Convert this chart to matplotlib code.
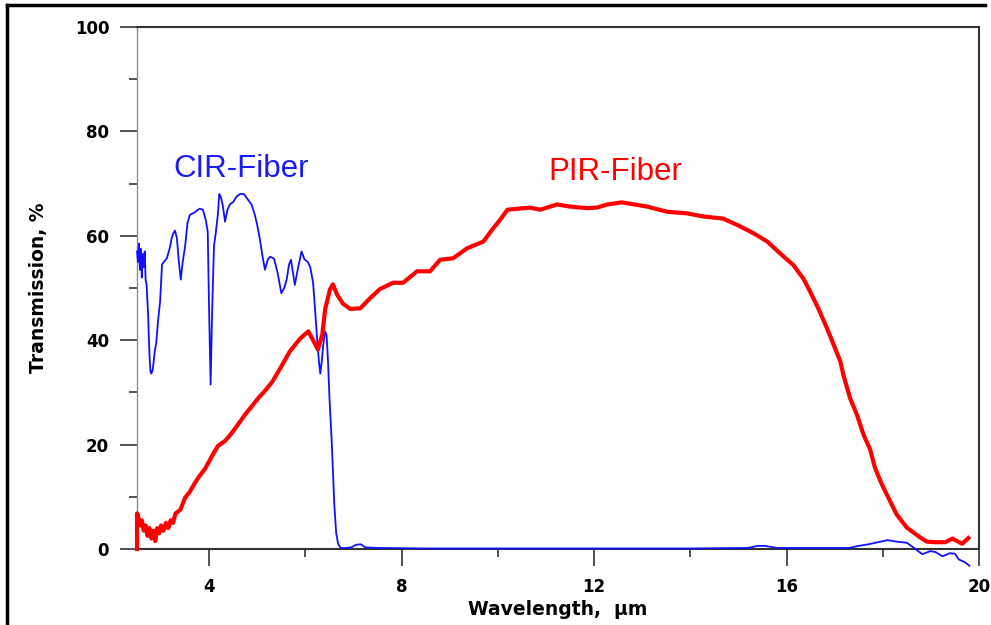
import matplotlib
matplotlib.use("Agg")
import matplotlib.pyplot as plt
from matplotlib.lines import Line2D

# ---- data ----
cir_x = [2.50, 2.52, 2.54, 2.56, 2.58, 2.60, 2.62, 2.64, 2.66, 2.68, 2.70, 2.73,
         2.76, 2.78, 2.80, 2.83, 2.87, 2.90, 2.94, 2.98, 3.02, 3.06, 3.12, 3.18,
         3.22, 3.25, 3.29, 3.33, 3.37, 3.41, 3.45, 3.50, 3.55, 3.60, 3.70, 3.80,
         3.87, 3.93, 3.97, 4.00, 4.03, 4.06, 4.10, 4.14, 4.18, 4.21, 4.24, 4.28,
         4.33, 4.38, 4.43, 4.50, 4.57, 4.64, 4.72, 4.80, 4.88, 4.95, 5.00, 5.06,
         5.11, 5.16, 5.22, 5.27, 5.35, 5.42, 5.50, 5.56, 5.61, 5.66, 5.70, 5.74,
         5.78, 5.85, 5.92, 5.98, 6.05, 6.10, 6.16, 6.20, 6.24, 6.28, 6.31, 6.34,
         6.37, 6.41, 6.44, 6.47, 6.50, 6.55, 6.60, 6.64, 6.68, 6.73, 6.85, 6.95,
         7.05, 7.15, 7.25, 7.50, 8.50, 10.0, 12.0, 14.0, 15.2, 15.4, 15.55, 15.8,
         17.3, 17.5, 17.7, 17.95, 18.1, 18.3, 18.5, 18.65, 18.82, 18.99, 19.1,
         19.24, 19.4, 19.5, 19.58, 19.7, 19.8]
cir_y = [57.0, 55.0, 58.5, 53.5, 57.5, 52.0, 56.5, 54.0, 57.0, 51.5, 50.6, 45.0,
         37.0, 34.0, 33.6, 34.5, 38.0, 39.5, 44.0, 47.4, 54.5, 55.0, 55.7, 57.6,
         59.5, 60.4, 61.0, 59.5, 55.0, 51.6, 55.0, 58.0, 62.5, 64.0, 64.5, 65.2,
         65.0, 63.0, 60.8, 45.0, 31.5, 45.0, 58.0, 60.8, 64.0, 68.0, 67.5, 66.0,
         62.7, 65.0, 66.0, 66.5, 67.5, 68.0, 68.0, 67.0, 66.0, 64.0, 62.0, 59.0,
         56.0, 53.5, 55.5, 56.0, 55.6, 53.0, 49.0, 50.0, 51.6, 54.5, 55.4, 53.0,
         50.6, 54.0, 57.0, 55.5, 55.0, 54.0, 51.0, 46.0, 40.7, 36.0, 33.6, 36.0,
         39.0, 41.7, 41.0, 36.0, 29.0, 20.0, 8.6, 3.0, 1.0, 0.2, 0.2, 0.3,
         0.8, 0.9, 0.3, 0.2, 0.1, 0.1, 0.1, 0.1, 0.2, 0.6, 0.6, 0.2,
         0.2, 0.6, 0.9, 1.4, 1.7, 1.4, 1.2, 0.2, -1.0, -0.4, -0.6,
         -1.4, -0.8, -0.9, -2.0, -2.5, -3.2]

pir_x = [2.50, 2.50, 2.52, 2.56, 2.60, 2.64, 2.68, 2.72, 2.76, 2.80, 2.84, 2.88,
         2.92, 2.96, 3.00, 3.05, 3.10, 3.15, 3.20, 3.25, 3.30, 3.40, 3.50, 3.60,
         3.70, 3.80, 3.91, 4.00, 4.10, 4.18, 4.25, 4.33, 4.45, 4.54, 4.65, 4.75,
         4.90, 5.02, 5.15, 5.31, 5.47, 5.68, 5.89, 6.06, 6.16, 6.26, 6.35, 6.41,
         6.51, 6.57, 6.66, 6.78, 6.93, 7.14, 7.34, 7.55, 7.82, 8.03, 8.32, 8.59,
         8.80, 9.07, 9.36, 9.70, 9.90, 10.05, 10.2, 10.67, 10.88, 11.23, 11.5,
         11.85, 12.06, 12.27, 12.58, 13.1, 13.52, 13.93, 14.27, 14.68, 14.97,
         15.31, 15.6, 15.87, 16.14, 16.35, 16.49, 16.66, 16.84, 16.98, 17.12,
         17.18, 17.32, 17.46, 17.6, 17.74, 17.84, 17.98, 18.15, 18.29, 18.5,
         18.78, 18.92, 19.1, 19.3, 19.45, 19.55, 19.65, 19.78]
pir_y = [0.0, 6.8, 6.5, 4.5, 5.5, 3.5, 4.5, 2.5, 4.0, 2.0, 3.5, 1.5,
         4.0, 3.0, 4.5, 3.5, 5.0, 4.0, 5.5, 5.0, 6.8, 7.5, 9.8, 11.0,
         12.6, 14.0, 15.3, 16.8, 18.5, 19.7, 20.2, 20.7, 22.0, 23.1, 24.5, 25.8,
         27.5, 28.9, 30.2, 32.0, 34.5, 37.9, 40.3, 41.7, 40.0, 38.2, 41.0, 45.9,
         49.7, 50.7, 48.7, 47.0, 46.0, 46.1, 48.0, 49.8, 51.0, 51.0, 53.2, 53.2,
         55.4, 55.7, 57.6, 58.9, 61.4, 63.1, 65.0, 65.4, 65.0, 66.0, 65.6,
         65.3, 65.4, 66.0, 66.4, 65.6, 64.6, 64.3, 63.7, 63.3, 62.1,
         60.5, 58.9, 56.6, 54.4, 51.8, 49.3, 46.1, 42.3, 39.1, 35.9,
         33.4, 28.9, 25.8, 21.9, 19.0, 15.5, 12.4, 9.2, 6.6, 4.1,
         2.2, 1.4, 1.3, 1.3, 2.0, 1.5, 1.0, 2.1]

x_major = [4, 8, 12, 16, 20]
x_minor = [6, 10, 14, 18]
y_major = [0, 20, 40, 60, 80, 100]
y_minor = [10, 30, 50, 70, 90]

# ---- figure ----
W, H = 991, 625
fig = plt.figure(figsize=(W / 100, H / 100), dpi=100)
ax = fig.add_axes([137 / W, 1 - 549 / H, (979 - 137) / W, (549 - 27) / H])

ax.plot(cir_x, cir_y, color="#1010ff", lw=1.3, clip_on=False, zorder=3)
ax.plot(pir_x, pir_y, color="#ff0000", lw=3.0, clip_on=False, zorder=4,
        solid_joinstyle="round")

ax.set_xlim(2.5, 20)
ax.set_ylim(0, 100)
ax.set_xticks(x_major)
ax.set_xticks(x_minor, minor=True)
ax.set_yticks(y_major)
ax.set_yticks(y_minor, minor=True)

tick_font = dict(family="DejaVu Sans", weight="bold", size=12)
ax.set_xticklabels([str(v) for v in x_major], fontdict=tick_font)
ax.set_yticklabels([str(v) for v in y_major], fontdict=tick_font)
ax.tick_params(which="major", direction="out", length=12, width=1.2,
               color="#333333")
ax.tick_params(which="minor", direction="out", length=6, width=1.2,
               color="#333333")
ax.tick_params(axis="x", which="major", pad=9)
ax.tick_params(axis="y", which="major", pad=8)

ax.spines["left"].set_color("#8c8c8c")
ax.spines["left"].set_linewidth(1.0)
for s in ("top", "right", "bottom"):
    ax.spines[s].set_color("#333333")
    ax.spines[s].set_linewidth(1.5)

ax.set_xlabel("Wavelength,  µm", family="DejaVu Sans", weight="bold",
              size=13.5, labelpad=3)
ax.set_ylabel("Transmission, %", family="DejaVu Sans", weight="bold",
              size=13.5, labelpad=19)

ax.text(4.66, 72.8, "CIR-Fiber", color="#1a1aff", family="Liberation Sans",
        size=22.5, ha="center", va="center")
ax.text(12.44, 72.3, "PIR-Fiber", color="#ff0000", family="Liberation Sans",
        size=22.5, ha="center", va="center")

# outer frame (left and top edges)
fig.add_artist(Line2D([6.5 / W, 6.5 / W], [0, 1 - 5 / H], color="black",
                      lw=2.5, transform=fig.transFigure))
fig.add_artist(Line2D([6.5 / W, 985 / W], [1 - 5 / H, 1 - 5 / H],
                      color="black", lw=2.5, transform=fig.transFigure))

fig.savefig("out.png", dpi=100)
